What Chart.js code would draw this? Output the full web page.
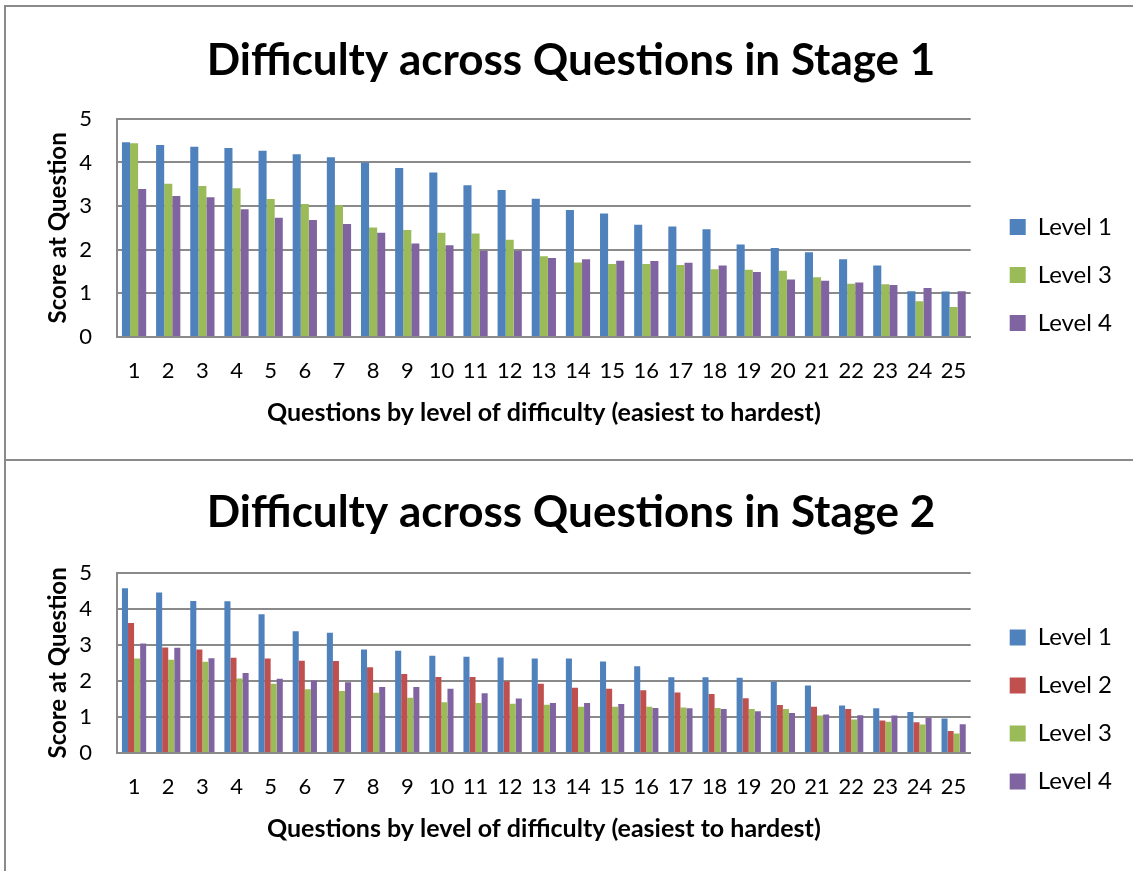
<!DOCTYPE html>
<html>
<head>
<meta charset="utf-8">
<title>Difficulty across Questions</title>
<script src="https://cdn.jsdelivr.net/npm/chart.js@4.4.1/dist/chart.umd.min.js"></script>
<style>
  body { margin: 0; background: #fff; }
  #wrap { position: relative; width: 1133px; height: 871px; overflow: hidden; }
  .panel { position: absolute; left: 4px; width: 1200px; box-sizing: border-box; border: 2px solid #8a8a8a; }
  .box { position: absolute; left: 0; width: 1133px; }
</style>
</head>
<body>
<div id="wrap">
  <div class="panel" style="top:5px;height:456px"></div>
  <div class="panel" style="top:459px;height:420px"></div>
  <div class="box" style="top:0;height:460px"><canvas id="stage1"></canvas></div>
  <div class="box" style="top:460px;height:411px"><canvas id="stage2"></canvas></div>
</div>
<script>
// --- data ---
const questions = ['1','2','3','4','5','6','7','8','9','10','11','12','13','14','15','16','17','18','19','20','21','22','23','24','25'];
const yTicks = [0, 1, 2, 3, 4, 5];

const s1Level1 = [4.46,4.40,4.36,4.33,4.27,4.19,4.12,4.00,3.87,3.77,3.48,3.37,3.17,2.91,2.83,2.57,2.53,2.47,2.12,2.04,1.94,1.78,1.64,1.05,1.04];
const s1Level3 = [4.44,3.51,3.46,3.41,3.16,3.05,3.02,2.51,2.45,2.39,2.37,2.23,1.85,1.71,1.67,1.67,1.65,1.55,1.54,1.52,1.37,1.22,1.21,0.82,0.69];
const s1Level4 = [3.39,3.23,3.20,2.93,2.73,2.68,2.59,2.39,2.14,2.10,1.97,1.97,1.81,1.78,1.75,1.74,1.70,1.64,1.49,1.32,1.29,1.25,1.19,1.12,1.05];

const s2Level1 = [4.57,4.45,4.22,4.21,3.85,3.38,3.34,2.87,2.84,2.70,2.67,2.65,2.62,2.62,2.54,2.41,2.10,2.10,2.09,1.98,1.87,1.32,1.24,1.14,0.96];
const s2Level2 = [3.61,2.93,2.87,2.64,2.62,2.56,2.55,2.38,2.19,2.11,2.11,1.99,1.92,1.81,1.78,1.74,1.68,1.64,1.52,1.33,1.28,1.22,0.90,0.85,0.61];
const s2Level3 = [2.62,2.59,2.53,2.07,1.92,1.77,1.72,1.67,1.53,1.41,1.39,1.37,1.34,1.28,1.28,1.28,1.26,1.25,1.22,1.22,1.04,0.93,0.87,0.79,0.54];
const s2Level4 = [3.04,2.92,2.63,2.22,2.06,2.01,1.96,1.83,1.83,1.78,1.66,1.51,1.39,1.39,1.36,1.25,1.24,1.22,1.16,1.11,1.07,1.05,1.04,0.98,0.80];

const COLORS = { l1: '#4f81bd', l2: '#c0504d', l3: '#9bbb59', l4: '#8064a2' };
const FONT = 'Lato, "Open Sans", sans-serif';
const GRID = '#8a8a8a';

Chart.defaults.font.family = FONT;
Chart.defaults.color = '#000';

// moves the legend block after layout (Excel centres it on the whole chart)
const legendShift = {
    id: 'legendShift',
    afterLayout(chart, args, opts) {
        const lg = chart.legend;
        if (!lg) return;
        lg.left += opts.dx; lg.right += opts.dx;
        lg.top += opts.dy; lg.bottom += opts.dy;
    }
};

function bars(label, data, color) {
    return {
        label: label,
        data: data,
        backgroundColor: color,
        borderWidth: 0,
        barPercentage: 1.0,
        categoryPercentage: 0.71
    };
}

function makeChart(id, title, datasets, g) {
    return new Chart(document.getElementById(id), {
        type: 'bar',
        data: { labels: questions, datasets: datasets },
        plugins: [legendShift],
        options: {
            responsive: true,
            maintainAspectRatio: false,
            animation: false,
            layout: { padding: { left: 35, right: g.padRight, top: 0, bottom: 20 } },
            plugins: {
                title: {
                    display: true,
                    text: title,
                    color: '#000',
                    font: { size: 44, weight: 'bold' },
                    padding: { top: g.titleTop, bottom: g.titleBottom }
                },
                legend: {
                    position: 'right',
                    labels: {
                        color: '#000',
                        font: { size: 24 },
                        boxWidth: 16,
                        boxHeight: 16,
                        padding: 24
                    }
                },
                legendShift: { dx: g.dx, dy: g.dy },
                tooltip: { enabled: false }
            },
            scales: {
                x: {
                    grid: { display: false, drawTicks: false },
                    border: { color: GRID, width: 2 },
                    ticks: { color: '#000', font: { size: 22 }, padding: 21, maxRotation: 0, autoSkip: false },
                    title: {
                        display: true,
                        text: 'Questions by level of difficulty (easiest to hardest)',
                        color: '#000',
                        font: { size: 25, weight: 'bold' },
                        padding: { top: 0, bottom: g.xTitleBottom }
                    },
                    afterFit: (scale) => { scale.height = g.xHeight; }
                },
                y: {
                    min: 0,
                    max: 5,
                    afterBuildTicks: (scale) => { scale.ticks = yTicks.map(v => ({ value: v })); },
                    grid: { color: GRID, lineWidth: 2, drawTicks: false },
                    border: { color: GRID, width: 2 },
                    ticks: { color: '#000', font: { size: 22 }, padding: 25 },
                    title: {
                        display: true,
                        text: 'Score at Question',
                        color: '#000',
                        font: { size: 24, weight: 'bold' },
                        padding: { top: 9, bottom: 0 }
                    },
                    afterFit: (scale) => { scale.width = 82; }
                }
            }
        }
    });
}

makeChart('stage1', 'Difficulty across Questions in Stage 1', [
    bars('Level 1', s1Level1, COLORS.l1),
    bars('Level 3', s1Level3, COLORS.l3),
    bars('Level 4', s1Level4, COLORS.l4)
], { padRight: 26, titleTop: 34, titleBottom: 32, xHeight: 103, xTitleBottom: 12, dx: 15, dy: 55 });

makeChart('stage2', 'Difficulty across Questions in Stage 2', [
    bars('Level 1', s2Level1, COLORS.l1),
    bars('Level 2', s2Level2, COLORS.l2),
    bars('Level 3', s2Level3, COLORS.l3),
    bars('Level 4', s2Level4, COLORS.l4)
], { padRight: 26, titleTop: 26, titleBottom: 34, xHeight: 98, xTitleBottom: 7, dx: 15, dy: 54 });
</script>
</body>
</html>
